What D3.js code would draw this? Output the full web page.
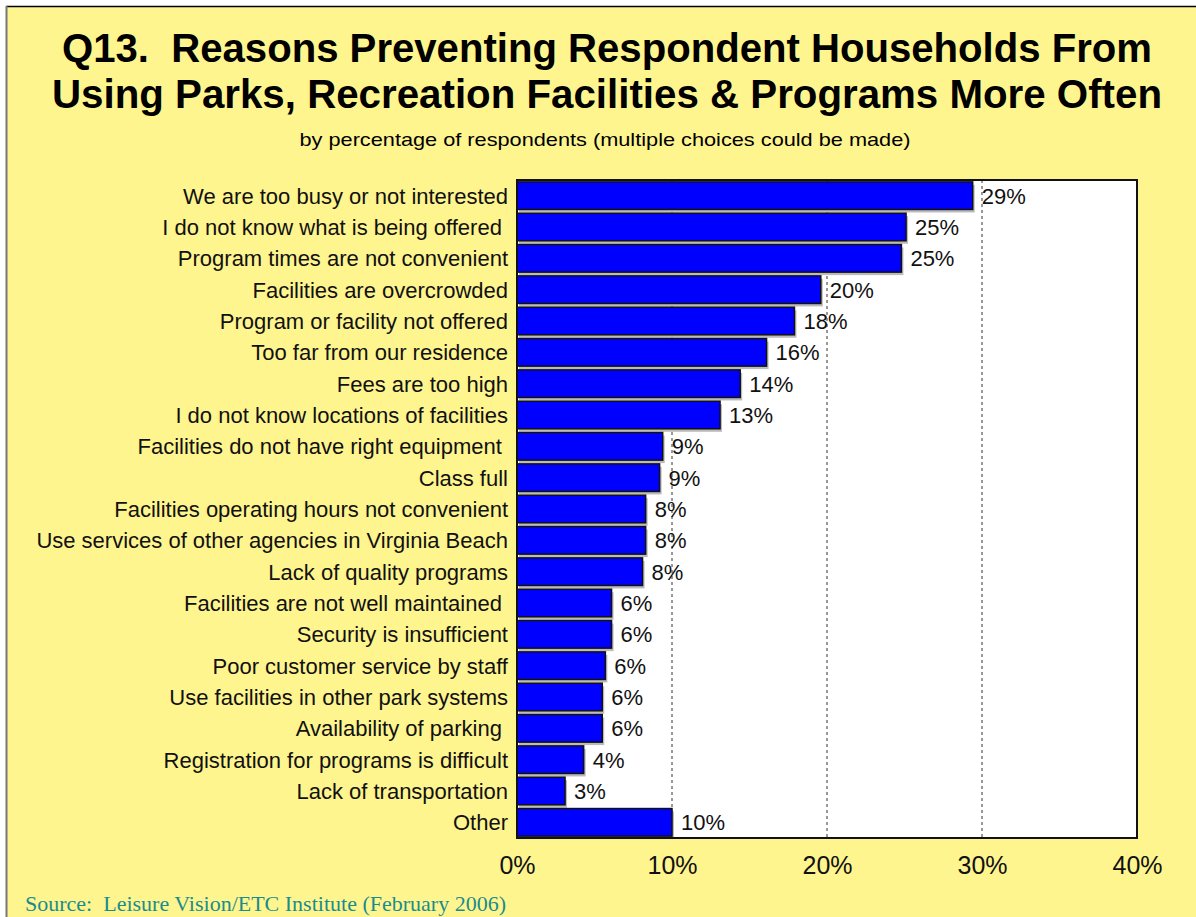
<!DOCTYPE html>
<html><head><meta charset="utf-8">
<script src="https://cdn.jsdelivr.net/npm/d3@7"></script>
<style>html,body{margin:0;padding:0;background:#fff;} svg{display:block;}</style>
</head><body>
<script>
const categories = [
  "We are too busy or not interested",
  "I do not know what is being offered ",
  "Program times are not convenient",
  "Facilities are overcrowded",
  "Program or facility not offered",
  "Too far from our residence",
  "Fees are too high",
  "I do not know locations of facilities",
  "Facilities do not have right equipment ",
  "Class full",
  "Facilities operating hours not convenient",
  "Use services of other agencies in Virginia Beach",
  "Lack of quality programs",
  "Facilities are not well maintained ",
  "Security is insufficient",
  "Poor customer service by staff",
  "Use facilities in other park systems",
  "Availability of parking ",
  "Registration for programs is difficult",
  "Lack of transportation",
  "Other"
];
const values = [29.4, 25.1, 24.8, 19.6, 17.9, 16.1, 14.4, 13.1, 9.4, 9.2, 8.3, 8.3, 8.1, 6.1, 6.1, 5.7, 5.5, 5.5, 4.3, 3.1, 10.0];
const tickValues = [0, 10, 20, 30, 40];
const titleLines = ["Q13.  Reasons Preventing Respondent Households From",
                    "Using Parks, Recreation Facilities & Programs More Often"];
const subtitle = "by percentage of respondents (multiple choices could be made)";
const source = "Source:  Leisure Vision/ETC Institute (February 2006)";

const W = 1196, H = 917;
const svg = d3.select("body").append("svg").attr("width", W).attr("height", H);
svg.append("rect").attr("x", 7).attr("y", 7).attr("width", W - 7).attr("height", H - 7).attr("fill", "#FFF58F");
svg.append("line").attr("x1", 6).attr("x2", W).attr("y1", 6.5).attr("y2", 6.5).attr("stroke", "#000").attr("stroke-width", 1.5);
svg.append("line").attr("x1", 6.5).attr("x2", 6.5).attr("y1", 6).attr("y2", H).attr("stroke", "#777").attr("stroke-width", 2);

const sans = "Arial, 'Liberation Sans', sans-serif";
svg.append("text").attr("x", 607).attr("y", 62).attr("text-anchor", "middle")
  .attr("font-family", sans).attr("font-weight", "bold").attr("font-size", 40)
  .attr("textLength", 1090).attr("lengthAdjust", "spacingAndGlyphs").style("white-space", "pre").text(titleLines[0]);
svg.append("text").attr("x", 607).attr("y", 108).attr("text-anchor", "middle")
  .attr("font-family", sans).attr("font-weight", "bold").attr("font-size", 40)
  .attr("textLength", 1110).attr("lengthAdjust", "spacingAndGlyphs").text(titleLines[1]);
svg.append("text").attr("x", 605).attr("y", 146).attr("text-anchor", "middle")
  .attr("font-family", sans).attr("font-size", 19)
  .attr("textLength", 611).attr("lengthAdjust", "spacingAndGlyphs").text(subtitle);

const pLeft = 517, pRight = 1137, pTop = 180, pBottom = 838;
const x = d3.scaleLinear().domain([0, 40]).range([pLeft, pRight]);
const y = d3.scaleBand().domain(categories).range([pTop, pBottom]).paddingInner(0.12).paddingOuter(0.06);

svg.append("rect").attr("x", pLeft).attr("y", pTop).attr("width", pRight - pLeft).attr("height", pBottom - pTop).attr("fill", "#fff");

svg.append("g").selectAll("line").data(tickValues.filter(t => t > 0 && t < 40)).join("line")
  .attr("x1", d => x(d)).attr("x2", d => x(d)).attr("y1", pTop).attr("y2", pBottom)
  .attr("stroke", "#333").attr("stroke-width", 1).attr("stroke-dasharray", "3,3");

const data = categories.map((c, i) => ({c, v: values[i]}));
svg.append("g").selectAll("rect").data(data).join("rect")
  .attr("x", pLeft + 2).attr("y", d => y(d.c) + 3).attr("width", d => x(d.v) - pLeft).attr("height", y.bandwidth())
  .attr("fill", "#bbb");
svg.append("g").selectAll("rect").data(data).join("rect")
  .attr("x", pLeft).attr("y", d => y(d.c)).attr("width", d => x(d.v) - pLeft).attr("height", y.bandwidth())
  .attr("fill", "#0000FF").attr("stroke", "#111").attr("stroke-width", 1.5);

svg.append("g").selectAll("text").data(data).join("text")
  .attr("x", d => x(d.v) + 9).attr("y", d => y(d.c) + y.bandwidth() / 2 + 8)
  .attr("font-family", sans).attr("font-size", 22).attr("fill", "#111")
  .text(d => Math.round(d.v) + "%");

svg.append("g").selectAll("text").data(data).join("text")
  .attr("x", 508).attr("y", d => y(d.c) + y.bandwidth() / 2 + 8).attr("text-anchor", "end")
  .attr("font-family", sans).attr("font-size", 22).attr("fill", "#111").style("white-space", "pre")
  .text(d => d.c);

svg.append("rect").attr("x", pLeft).attr("y", pTop).attr("width", pRight - pLeft).attr("height", pBottom - pTop)
  .attr("fill", "none").attr("stroke", "#111").attr("stroke-width", 2);

const axis = d3.axisBottom(x).tickValues(tickValues).tickFormat(d => d + "%").tickSize(0).tickPadding(0);
const ax = svg.append("g").attr("transform", `translate(0,${pBottom})`).call(axis);
ax.select(".domain").remove();
ax.selectAll("text").attr("font-family", sans).attr("font-size", 25).attr("fill", "#111")
  .attr("dy", null).attr("y", 36);

svg.append("text").attr("x", 25).attr("y", 911).attr("font-family", "'Times New Roman', 'Liberation Serif', serif")
  .attr("font-size", 22).attr("fill", "#1A8C8C").style("white-space", "pre").text(source);
</script>
</body></html>
